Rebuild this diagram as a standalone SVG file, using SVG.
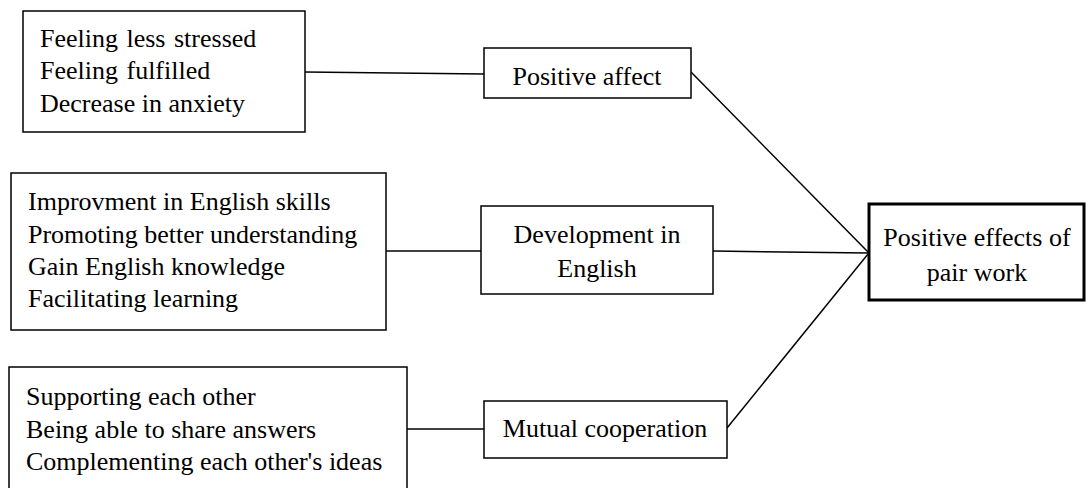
<svg xmlns="http://www.w3.org/2000/svg" width="1089" height="488" viewBox="0 0 1089 488">
<style>
.box{fill:#fff;stroke:#000;stroke-width:1.5}
.main{fill:#fff;stroke:#000;stroke-width:3}
.t{font-family:"Liberation Serif","Times New Roman",serif;font-size:26px;fill:#000}
.c{text-anchor:middle}
.ln{stroke:#000;stroke-width:1.5;fill:none}
</style>
<rect width="1089" height="488" fill="#fff"/>
<g id="connectors">
<line class="ln" x1="305" y1="72" x2="484" y2="74"/>
<line class="ln" x1="386" y1="251" x2="481" y2="251"/>
<line class="ln" x1="407" y1="429" x2="484" y2="429"/>
<line class="ln" x1="691" y1="72" x2="868" y2="252"/>
<line class="ln" x1="713" y1="251" x2="868" y2="253"/>
<line class="ln" x1="727" y1="428" x2="868" y2="254"/>
</g>
<g id="affect-items">
<rect class="box" x="23" y="11" width="282" height="121"/>
<text class="t" x="40" y="47" word-spacing="2">Feeling less stressed</text>
<text class="t" x="40" y="79" word-spacing="2">Feeling fulfilled</text>
<text class="t" x="40" y="112">Decrease in anxiety</text>
</g>
<g id="english-items">
<rect class="box" x="11" y="173" width="375" height="157"/>
<text class="t" x="28" y="210">Improvment in English skills</text>
<text class="t" x="28" y="243">Promoting better understanding</text>
<text class="t" x="28" y="275">Gain English knowledge</text>
<text class="t" x="28" y="307">Facilitating learning</text>
</g>
<g id="coop-items">
<rect class="box" x="9" y="367" width="398" height="125"/>
<text class="t" x="26" y="405">Supporting each other</text>
<text class="t" x="26" y="438">Being able to share answers</text>
<text class="t" x="26" y="470">Complementing each other's ideas</text>
</g>
<g id="positive-affect">
<rect class="box" x="484" y="48" width="207" height="50"/>
<text class="t c" x="587" y="85">Positive affect</text>
</g>
<g id="development">
<rect class="box" x="481" y="206" width="232" height="88"/>
<text class="t c" x="597" y="243">Development in</text>
<text class="t c" x="597" y="277">English</text>
</g>
<g id="mutual">
<rect class="box" x="484" y="401" width="243" height="57"/>
<text class="t c" x="605" y="437">Mutual cooperation</text>
</g>
<g id="positive-effects">
<rect class="main" x="869" y="204" width="215" height="96"/>
<text class="t c" x="977" y="246">Positive effects of</text>
<text class="t c" x="977" y="281">pair work</text>
</g>
</svg>
